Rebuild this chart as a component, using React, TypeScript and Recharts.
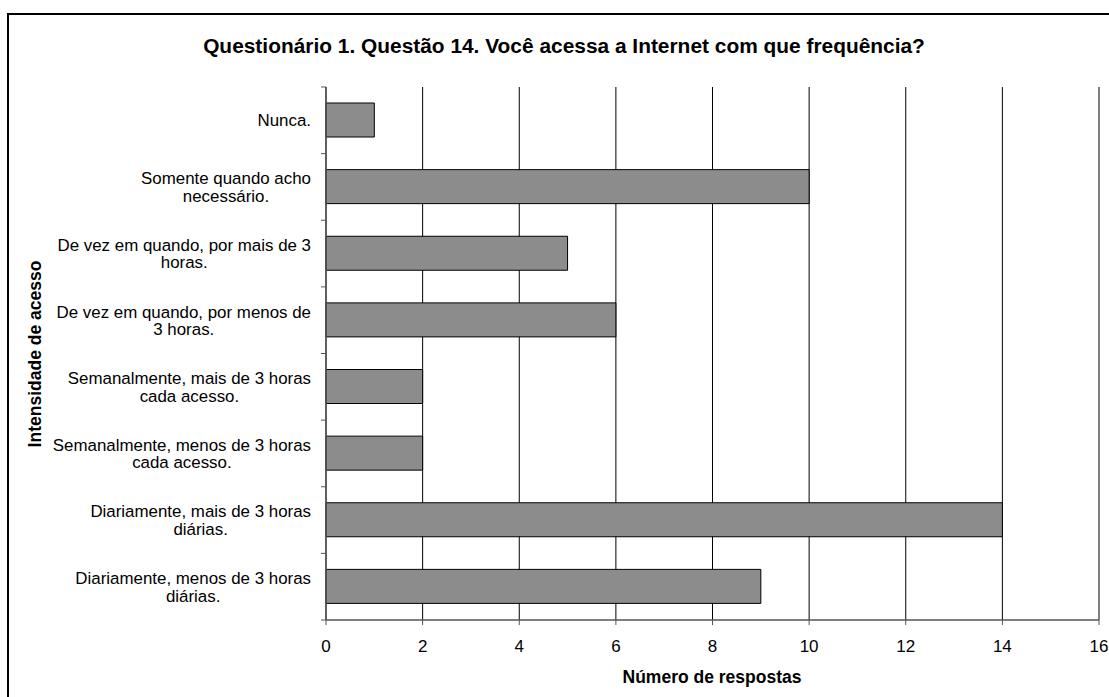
import React from "react";
import { BarChart, Bar, XAxis, YAxis, CartesianGrid } from "recharts";

// Answers to "Você acessa a Internet com que frequência?"
const categories: string[] = [
  "Nunca.",
  "Somente quando acho necessário.",
  "De vez em quando, por mais de 3 horas.",
  "De vez em quando, por menos de 3 horas.",
  "Semanalmente, mais de 3 horas cada acesso.",
  "Semanalmente, menos de 3 horas cada acesso.",
  "Diariamente, mais de 3 horas diárias.",
  "Diariamente, menos de 3 horas diárias.",
];

// How each category label wraps onto lines
const categoryLines: string[][] = [
  ["Nunca."],
  ["Somente quando acho", "necessário."],
  ["De vez em quando, por mais de 3", "horas."],
  ["De vez em quando, por menos de", "3 horas."],
  ["Semanalmente, mais de 3 horas", "cada acesso."],
  ["Semanalmente, menos de 3 horas", "cada acesso."],
  ["Diariamente, mais de 3 horas", "diárias."],
  ["Diariamente, menos de 3 horas", "diárias."],
];

const responses: number[] = [1, 10, 5, 6, 2, 2, 14, 9];

const xTicks: number[] = [0, 2, 4, 6, 8, 10, 12, 14, 16];

const data = categories.map((c, i) => ({ category: c, respostas: responses[i] }));

const FONT = "'Liberation Sans', Arial, sans-serif";
const W = 1109;
const H = 697;
const MARGIN = { top: 87, right: 10, bottom: 0, left: 0 };
const Y_AXIS_W = 326;
const X_AXIS_H = 77;
const BAND = (H - MARGIN.top - X_AXIS_H) / categories.length;

let ctx: CanvasRenderingContext2D | null = null;
function textWidth(s: string, font: string): number {
  if (!ctx) ctx = document.createElement("canvas").getContext("2d");
  if (!ctx) return s.length * 8;
  ctx.font = font;
  return ctx.measureText(s).width;
}

const CategoryTick = (props: any) => {
  const { y, payload, index } = props;
  const lines = categoryLines[categories.indexOf(payload.value)] || [payload.value];
  const fontSize = 16.9;
  const lineH = 17.5;
  const widest = Math.max(...lines.map((l) => textWidth(l, `${fontSize}px ${FONT}`)));
  const axisX = Y_AXIS_W;
  const right = axisX - 15;
  const cx = right - widest / 2;
  const y0 = y - ((lines.length - 1) * lineH) / 2;
  const top = y - BAND / 2;
  return (
    <g>
      <line x1={axisX - 5} x2={axisX} y1={top} y2={top} stroke="#555" strokeWidth={1} />
      {index === categories.length - 1 && (
        <line x1={axisX - 5} x2={axisX} y1={top + BAND} y2={top + BAND} stroke="#555" strokeWidth={1} />
      )}
      <text textAnchor="middle" fontFamily={FONT} fontSize={fontSize} fill="#000">
        {lines.map((l, i) => (
          <tspan key={i} x={cx} y={y0 + i * lineH} dy="0.36em">
            {l}
          </tspan>
        ))}
      </text>
    </g>
  );
};

export default function App() {
  return (
    <div style={{ position: "absolute", left: 0, top: 0, width: W, height: H, background: "#fff", overflow: "hidden" }}>
      <div
        style={{
          position: "absolute",
          left: 7,
          top: 13,
          width: 1120,
          height: 700,
          border: "2px solid #000",
          boxSizing: "border-box",
        }}
      />
      <BarChart
        width={W}
        height={H}
        data={data}
        layout="vertical"
        margin={MARGIN}
        barSize={34}
        style={{ position: "absolute", left: 0, top: 0 }}
      >
        <text
          x={564}
          y={45}
          textAnchor="middle"
          dominantBaseline="central"
          fontFamily={FONT}
          fontWeight="bold"
          fontSize={20.9}
          fill="#000"
        >
          Questionário 1. Questão 14. Você acessa a Internet com que frequência?
        </text>
        <text
          x={712}
          y={677}
          textAnchor="middle"
          dominantBaseline="central"
          fontFamily={FONT}
          fontWeight="bold"
          fontSize={17.5}
          fill="#000"
        >
          Número de respostas
        </text>
        <text
          x={35}
          y={354}
          textAnchor="middle"
          dominantBaseline="central"
          fontFamily={FONT}
          fontWeight="bold"
          fontSize={17.5}
          fill="#000"
          transform="rotate(-90 35 354)"
        >
          Intensidade de acesso
        </text>
        <CartesianGrid horizontal={false} vertical={true} stroke="#000" strokeWidth={1} />
        <XAxis
          type="number"
          domain={[0, 16]}
          ticks={xTicks}
          interval={0}
          height={X_AXIS_H}
          axisLine={{ stroke: "#555", strokeWidth: 1.5 }}
          tickLine={{ stroke: "#555" }}
          tickSize={5}
          tickMargin={15}
          tick={{ fill: "#000", fontSize: 17, fontFamily: FONT }}
        />
        <YAxis
          type="category"
          dataKey="category"
          width={Y_AXIS_W}
          interval={0}
          axisLine={{ stroke: "#555", strokeWidth: 1.5 }}
          tickLine={false}
          tick={<CategoryTick />}
        />
        <Bar
          dataKey="respostas"
          fill="#8c8c8c"
          stroke="#000"
          strokeWidth={1}
          isAnimationActive={false}
        />
      </BarChart>
    </div>
  );
}
